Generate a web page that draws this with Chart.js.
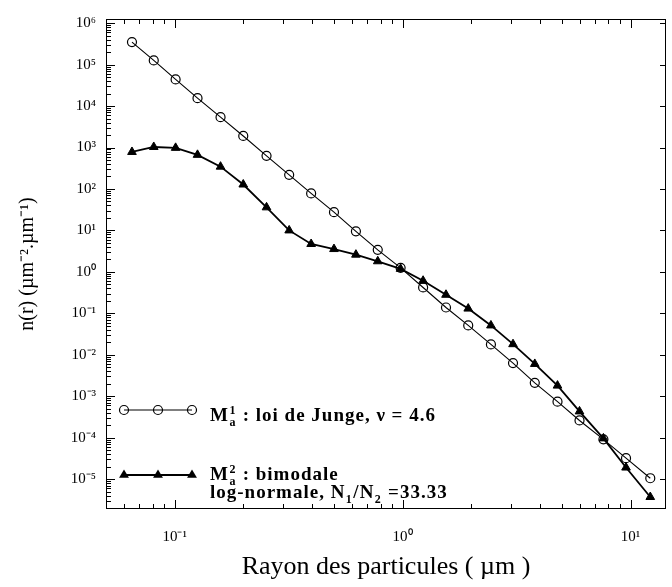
<!DOCTYPE html>
<html>
<head>
<meta charset="utf-8">
<script src="https://cdn.jsdelivr.net/npm/chart.js@4/dist/chart.umd.min.js"></script>
<style>
  html, body { margin: 0; padding: 0; background: #fff; }
  #wrap { width: 672px; height: 587px; }
</style>
</head>
<body>
<div id="wrap"><canvas id="chart"></canvas></div>
<script>
// --- data ---
const radius = [0.065, 0.081, 0.101, 0.126, 0.159, 0.2, 0.253, 0.318, 0.397, 0.5, 0.624, 0.778,
                0.98, 1.23, 1.55, 1.94, 2.44, 3.05, 3.8, 4.78, 5.97, 7.6, 9.55, 12.2];
const jungeValues = [3.5e5, 1.26e5, 4.4e4, 1.55e4, 5.4e3, 1.9e3, 630, 219, 78, 27.5, 9.5, 3.4,
                     1.25, 0.42, 0.138, 0.051, 0.0178, 0.0063, 0.0021, 7.4e-4, 2.6e-4, 9.1e-5, 3.2e-5, 1.05e-5];
const bimodalValues = [780, 1030, 980, 665, 345, 128, 36, 10, 4.7, 3.55, 2.6, 1.8,
                       1.18, 0.61, 0.28, 0.13, 0.051, 0.018, 0.006, 0.0018, 4.3e-4, 9.6e-5, 1.9e-5, 3.7e-6];

const xRange = [0.05, 14.3];
const yRange = [1.9e-6, 1.26e6];
const xTitle = 'Rayon des particules ( µm )';
const yTitle = 'n(r) (µm⁻².µm⁻¹)';

// legend text, split in pieces so the super/subscripts can be drawn
const legendJunge = [[{ t: 'M' }, { sup: '1', sub: 'a' }, { t: ' : loi de Junge, ν = 4.6' }]];
const legendBimodal = [
    [{ t: 'M' }, { sup: '2', sub: 'a' }, { t: ' : bimodale' }],
    [{ t: 'log-normale, N' }, { sub: '1' }, { t: '/N' }, { sub: '2' }, { t: ' =33.33' }]
];

const SERIF = '"Liberation Serif", "Times New Roman", serif';
const SUP = { '0': '⁰', '1': '¹', '2': '²', '3': '³', '4': '⁴', '5': '⁵', '6': '⁶', '7': '⁷', '8': '⁸', '9': '⁹', '-': '⁻' };

// ticks 1..9 x 10^e inside the range
function logTicks(min, max) {
    const out = [];
    for (let e = Math.floor(Math.log10(min)); e <= Math.ceil(Math.log10(max)); e++) {
        for (let m = 1; m < 10; m++) {
            const v = m * Math.pow(10, e);
            if (v >= min && v <= max) out.push({ value: v });
        }
    }
    return out;
}

function isDecade(v) {
    const e = Math.log10(v);
    return Math.abs(e - Math.round(e)) < 1e-6;
}

function decadeLabel(v) {
    if (!isDecade(v)) return '';
    const e = String(Math.round(Math.log10(v)));
    return '10' + e.split('').map(c => SUP[c]).join('');
}

// draws a marker like the figure (open circle / filled triangle)
function drawMarker(ctx, type, x, y) {
    ctx.save();
    ctx.strokeStyle = '#000';
    ctx.fillStyle = '#000';
    ctx.lineWidth = 1.2;
    ctx.beginPath();
    if (type === 'circle') {
        ctx.arc(x, y, 4.5, 0, Math.PI * 2);
        ctx.stroke();
    } else {
        const r = 5.5;
        ctx.moveTo(x, y - r);
        ctx.lineTo(x + r * 0.9, y + r * 0.5);
        ctx.lineTo(x - r * 0.9, y + r * 0.5);
        ctx.closePath();
        ctx.fill();
    }
    ctx.restore();
}

function drawRich(ctx, parts, x, y, size) {
    parts.forEach(p => {
        if (p.t !== undefined) {
            ctx.font = `bold ${size}px ${SERIF}`;
            ctx.fillText(p.t, x, y);
            x += ctx.measureText(p.t).width;
        } else {
            ctx.font = `bold ${Math.round(size * 0.62)}px ${SERIF}`;
            let w = 0;
            if (p.sup) { ctx.fillText(p.sup, x + 0.5, y - size * 0.38); w = ctx.measureText(p.sup).width; }
            if (p.sub) { ctx.fillText(p.sub, x + 0.5, y + size * 0.25); w = Math.max(w, ctx.measureText(p.sub).width); }
            x += w + 1;
        }
    });
}

// frame + inward ticks on the four sides, then the legend
const framePlugin = {
    id: 'frame',
    afterDraw(chart) {
        const { ctx, chartArea: a, scales } = chart;
        ctx.save();
        ctx.strokeStyle = '#000';
        ctx.lineWidth = 1;
        ctx.strokeRect(Math.round(a.left) + 0.5, Math.round(a.top) + 0.5,
                       Math.round(a.right - a.left) - 1, Math.round(a.bottom - a.top) - 1);
        ctx.beginPath();
        scales.x.ticks.forEach(t => {
            const px = Math.round(scales.x.getPixelForValue(t.value)) + 0.5;
            if (px <= a.left + 1 || px >= a.right - 1) return;
            const len = isDecade(t.value) ? 9 : 5;
            ctx.moveTo(px, a.bottom); ctx.lineTo(px, a.bottom - len);
            ctx.moveTo(px, a.top); ctx.lineTo(px, a.top + len);
        });
        scales.y.ticks.forEach(t => {
            const py = Math.round(scales.y.getPixelForValue(t.value)) + 0.5;
            if (py <= a.top + 1 || py >= a.bottom - 1) return;
            const major = isDecade(t.value);
            ctx.moveTo(a.left, py); ctx.lineTo(a.left + (major ? 9 : 5), py);
            if (major) { ctx.moveTo(a.right, py); ctx.lineTo(a.right - 6, py); }
        });
        ctx.stroke();

        // legend inside the plot
        const lx = a.left;
        const rows = [
            { type: 'circle', y: 410, width: 1.1, lines: legendJunge, textY: 421 },
            { type: 'triangle', y: 475, width: 1.8, lines: legendBimodal, textY: 480 }
        ];
        rows.forEach(r => {
            ctx.beginPath();
            ctx.lineWidth = r.width;
            ctx.moveTo(lx + 18, r.y); ctx.lineTo(lx + 86, r.y);
            ctx.stroke();
            [18, 52, 86].forEach(dx => drawMarker(ctx, r.type, lx + dx, r.y));
            ctx.fillStyle = '#000';
            ctx.textBaseline = 'alphabetic';
            ctx.textAlign = 'left';
            ctx.letterSpacing = '1px';
            r.lines.forEach((parts, i) => drawRich(ctx, parts, lx + 104, r.textY + i * 18, 19));
            ctx.letterSpacing = '0px';
        });
        ctx.restore();
    }
};

const tickFont = { family: SERIF, size: 15 };

new Chart(document.getElementById('chart'), {
    type: 'line',
    data: {
        datasets: [
            {
                label: 'M1a : loi de Junge',
                data: radius.map((r, i) => ({ x: r, y: jungeValues[i] })),
                borderColor: '#000',
                borderWidth: 1.1,
                pointStyle: 'circle',
                pointRadius: 4.5,
                pointBorderWidth: 1.2,
                pointBorderColor: '#000',
                pointBackgroundColor: 'rgba(0,0,0,0)',
                tension: 0
            },
            {
                label: 'M2a : bimodale log-normale',
                data: radius.map((r, i) => ({ x: r, y: bimodalValues[i] })),
                borderColor: '#000',
                borderWidth: 1.8,
                pointStyle: 'triangle',
                pointRadius: 5,
                pointBorderWidth: 1,
                pointBorderColor: '#000',
                pointBackgroundColor: '#000',
                tension: 0
            }
        ]
    },
    options: {
        responsive: true,
        maintainAspectRatio: false,
        animation: false,
        layout: { padding: { top: 15, right: 2, left: 0, bottom: 0 } },
        plugins: { legend: { display: false }, tooltip: { enabled: false } },
        scales: {
            x: {
                type: 'logarithmic',
                min: xRange[0],
                max: xRange[1],
                afterBuildTicks: s => { s.ticks = logTicks(xRange[0], xRange[1]); },
                afterFit: s => { s.height = 78; },
                grid: { display: false, drawTicks: false },
                border: { display: false },
                ticks: {
                    autoSkip: false, maxRotation: 0, minRotation: 0, padding: 19,
                    color: '#000', font: tickFont,
                    callback: v => decadeLabel(v)
                },
                title: {
                    display: true, text: xTitle, color: '#000',
                    font: { family: SERIF, size: 26 },
                    padding: { top: 0, bottom: 4 }
                }
            },
            y: {
                type: 'logarithmic',
                min: yRange[0],
                max: yRange[1],
                afterBuildTicks: s => { s.ticks = logTicks(yRange[0], yRange[1]); },
                afterFit: s => { s.width = 106; },
                grid: { display: false, drawTicks: false },
                border: { display: false },
                ticks: {
                    autoSkip: false, padding: 10,
                    color: '#000', font: tickFont,
                    callback: v => decadeLabel(v)
                },
                title: {
                    display: true, text: yTitle, color: '#000',
                    font: { family: SERIF, size: 20 },
                    padding: { top: 16, bottom: 0 }
                }
            }
        }
    },
    plugins: [framePlugin]
});
</script>
</body>
</html>
